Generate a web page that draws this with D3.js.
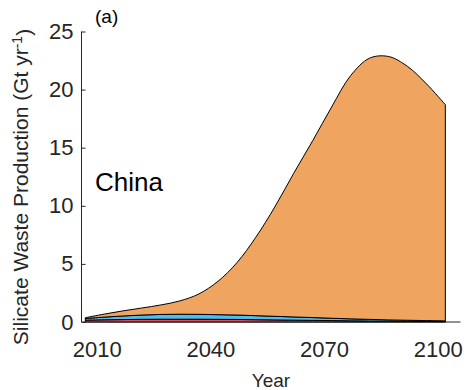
<!DOCTYPE html>
<html>
<head>
<meta charset="utf-8">
<script src="https://cdn.jsdelivr.net/npm/d3@7"></script>
<style>
  html, body { margin: 0; padding: 0; background: #fff; }
  svg { display: block; font-family: "Liberation Sans", Arial, Helvetica, sans-serif; }
</style>
</head>
<body>
<svg id="chart" width="466" height="390"></svg>
<script>
// Silicate waste production, China (Gt per year), stacked by source
const years = [2007, 2012, 2017, 2022, 2027, 2032, 2037, 2042, 2047, 2052,
               2057, 2062, 2067, 2072, 2077, 2082, 2087, 2092, 2097, 2102];
const redSeries = [0.16, 0.19, 0.21, 0.23, 0.24, 0.24, 0.24, 0.23, 0.22, 0.20,
                   0.18, 0.16, 0.14, 0.12, 0.10, 0.085, 0.07, 0.055, 0.045, 0.035];
const blueSeries = [0.14, 0.23, 0.31, 0.37, 0.41, 0.43, 0.42, 0.40, 0.38, 0.345,
                    0.31, 0.275, 0.24, 0.205, 0.17, 0.14, 0.11, 0.095, 0.075, 0.055];
const orangeSeries = [0.07, 0.26, 0.44, 0.61, 0.82, 1.15, 1.76, 2.87, 4.50, 6.75,
                      9.41, 12.37, 15.22, 18.18, 20.93, 22.48, 22.67, 21.85, 20.38, 18.61];
const seriesKeys = ["red", "blue", "orange"];
const seriesColors = ["#E5484D", "#4DBEEE", "#EFA45F"];
const xTicks = [2010, 2040, 2070, 2100];
const yTicks = [0, 5, 10, 15, 20, 25];

const svg = d3.select("#chart");
const ink = "#262626";

const x = d3.scaleLinear().domain([2006, 2106]).range([81.5, 460.5]);
const y = d3.scaleLinear().domain([0, 25]).range([322, 31.5]);

const rows = years.map((yr, i) => ({
  year: yr, red: redSeries[i], blue: blueSeries[i], orange: orangeSeries[i]
}));
const stacked = d3.stack().keys(seriesKeys)(rows);

// axes (drawn beneath the filled areas)
const yAxis = d3.axisLeft(y).tickValues(yTicks).tickSize(-4).tickPadding(8);
const gy = svg.append("g").attr("transform", `translate(${x.range()[0]},0)`).call(yAxis);
gy.select(".domain").attr("stroke", ink).attr("d", `M0,${y(25)}V${y(0)}`);
gy.selectAll(".tick line").attr("stroke", ink);
gy.selectAll(".tick text").attr("fill", ink).style("font-size", "22px")
  .style("font-family", "\"Liberation Sans\", Arial, sans-serif");

const xAxis = d3.axisBottom(x).tickValues(xTicks).tickFormat(d3.format("d"))
  .tickSize(-4).tickPadding(19);
const gx = svg.append("g").attr("transform", `translate(0,${y(0)})`).call(xAxis);
gx.select(".domain").attr("stroke", ink).attr("d", `M${x.range()[0]},0H${x.range()[1]}`);
gx.selectAll(".tick line").attr("stroke", ink);
gx.selectAll(".tick text").attr("fill", ink).style("font-size", "22px")
  .style("font-family", "\"Liberation Sans\", Arial, sans-serif");

// stacked areas with black outlines
const area = d3.area()
  .x(d => x(d.data.year))
  .y0(d => y(d[0]))
  .y1(d => y(d[1]))
  .curve(d3.curveCatmullRom.alpha(0.5));

svg.append("g").selectAll("path")
  .data(stacked)
  .join("path")
  .attr("d", d => area(d) + "Z")
  .attr("fill", (d, i) => seriesColors[i])
  .attr("stroke", "#000")
  .attr("stroke-width", 1)
  .attr("stroke-linejoin", "round");

// titles and annotations
svg.append("text")
  .attr("x", (x.range()[0] + x.range()[1]) / 2).attr("y", 387)
  .attr("text-anchor", "middle").attr("fill", ink)
  .style("font-size", "19px").text("Year");

const yl = svg.append("text")
  .attr("transform", "translate(28,187) rotate(-90)")
  .attr("text-anchor", "middle").attr("fill", ink)
  .style("font-size", "21px");
yl.append("tspan").text("Silicate Waste Production (Gt yr");
yl.append("tspan").attr("dy", "-0.45em").style("font-size", "14px").text("-1");
yl.append("tspan").attr("dy", "0.45em").text(")");

svg.append("text").attr("x", 95).attr("y", 191).attr("fill", "#000")
  .style("font-size", "26px").text("China");

svg.append("text").attr("x", 95).attr("y", 23).attr("fill", "#000")
  .style("font-size", "19px").text("(a)");
</script>
</body>
</html>
